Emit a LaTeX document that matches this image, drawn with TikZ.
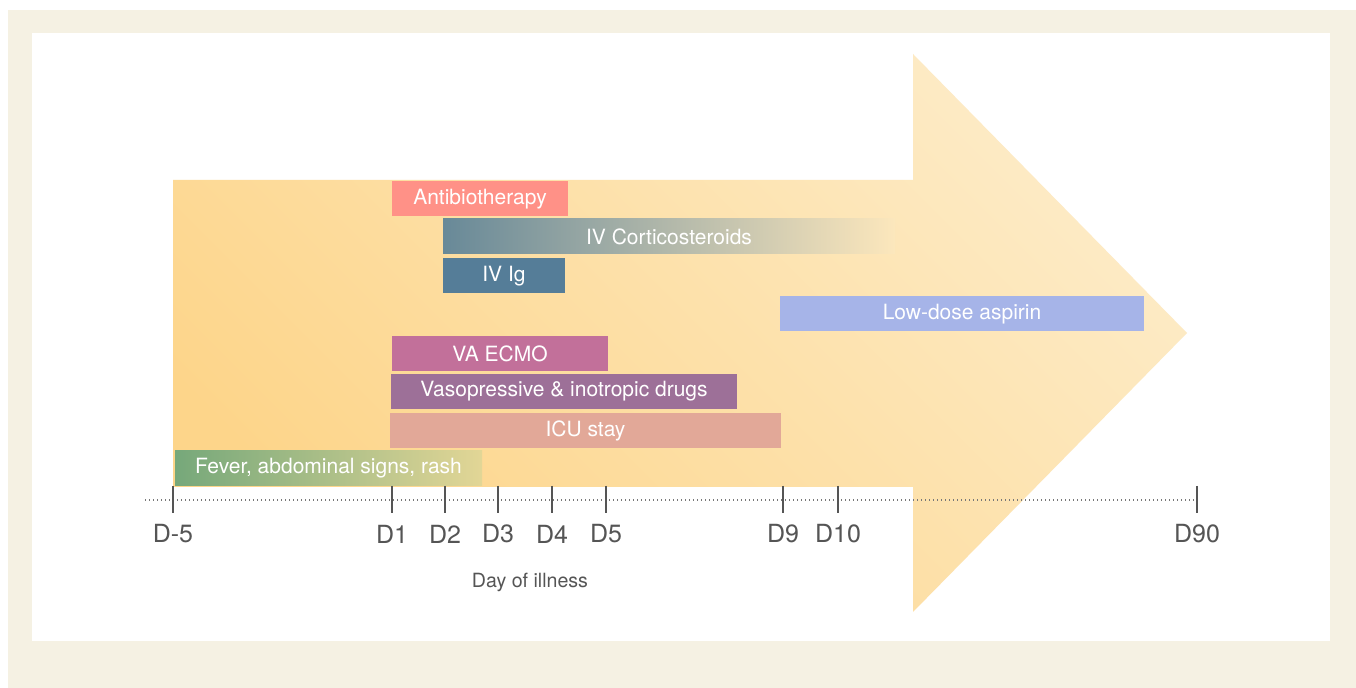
\documentclass[tikz,border=0pt]{standalone}
\usepackage{fontspec}
\setmainfont{TeX Gyre Heros}
\usepackage{xcolor}
\usepackage{tikz}
\usetikzlibrary{positioning}

\definecolor{framebeige}{RGB}{245,241,227}
\definecolor{arrowdark}{RGB}{253,213,138}
\definecolor{arrowlight}{RGB}{253,235,198}
\definecolor{antibio}{RGB}{255,145,135}
\definecolor{cortleft}{RGB}{104,137,152}
\definecolor{cortmid}{RGB}{190,190,160}
\definecolor{cortright}{RGB}{252,231,188}
\definecolor{ivig}{RGB}{85,125,152}
\definecolor{aspirin}{RGB}{166,180,232}
\definecolor{ecmo}{RGB}{194,112,154}
\definecolor{vaso}{RGB}{157,112,152}
\definecolor{icu}{RGB}{226,168,152}
\definecolor{feverleft}{RGB}{118,168,122}
\definecolor{feverright}{RGB}{226,214,150}
\definecolor{axisgray}{RGB}{85,85,85}

\tikzset{
  bar/.style={
    rectangle, inner sep=0pt, minimum height=17.5pt,
    text=white, font=\fontsize{10.5}{12}\selectfont
  },
  axisline/.style={draw=axisgray!80, line width=0.6pt, dash pattern=on 0.5pt off 1.5pt},
  tick/.style={draw=axisgray, line width=0.7pt},
  daylabel/.style={text=axisgray, font=\fontsize{12.5}{14}\selectfont, inner sep=0pt},
  axistitle/.style={text=axisgray, font=\fontsize{9.8}{11}\selectfont, inner sep=0pt},
}

\begin{document}
\begin{tikzpicture}[x=0.5pt, y=-0.5pt]
    \useasboundingbox (0,0) rectangle (1356,688);
    % frame
    \fill[white] (0,0) rectangle (1356,688);
    \fill[framebeige] (8,10) rectangle (1356,688);
    \fill[white] (32,33) rectangle (1330,641);

    % big arrow
    \shade[top color=arrowlight, bottom color=arrowdark, shading angle=-45]
      (173,180) -- (913,180) -- (913,54) -- (1187,333) -- (913,612)
      -- (913,487) -- (173,487) -- cycle;

    % treatments
    \node[bar, fill=antibio, minimum width=88pt] (antibio) at (480,199) {Antibiotherapy};
    \node[bar, left color=cortleft, middle color=cortmid, right color=cortright, minimum width=226pt] (cortico) at (669,236.5) {IV Corticosteroids};
    \node[bar, fill=ivig, minimum width=61pt] (ivig) at (504,276) {IV Ig};
    \node[bar, fill=aspirin, minimum width=182pt] (aspirin) at (962,314) {Low-dose aspirin};
    \node[bar, fill=ecmo, minimum width=108pt] (ecmo) at (500,353.5) {VA ECMO};
    \node[bar, fill=vaso, minimum width=173pt] (vaso) at (564,391.5) {Vasopressive \& inotropic drugs};
    \node[bar, fill=icu, minimum width=195.5pt] (icu) at (585.5,431) {ICU stay};
    \node[bar, left color=feverleft, right color=feverright, minimum width=153.5pt] (fever) at (328.5,468) {Fever, abdominal signs, rash};

    % time axis
    \coordinate (axisL) at (145,500);
    \coordinate (axisR) at (1197,500);
    \draw[axisline] (axisL) -- (axisR);
    \foreach \name/\x/\lab in {dm5/173/D-5, d1/392/D1, d2/445/D2, d3/498/D3, d4/552/D4,
                               d5/606/D5, d9/783/D9, d10/838/D10, d90/1197/D90} {
      \coordinate (\name top) at (\x,486);
      \coordinate (\name bot) at (\x,513);
      \draw[tick] (\name top) -- (\name bot);
      \node[daylabel] (\name lab) at (\x,534) {\lab};
    }
    \node[axistitle] (daytitle) at (530,582) {Day of illness};
  \end{tikzpicture}
\end{document}
